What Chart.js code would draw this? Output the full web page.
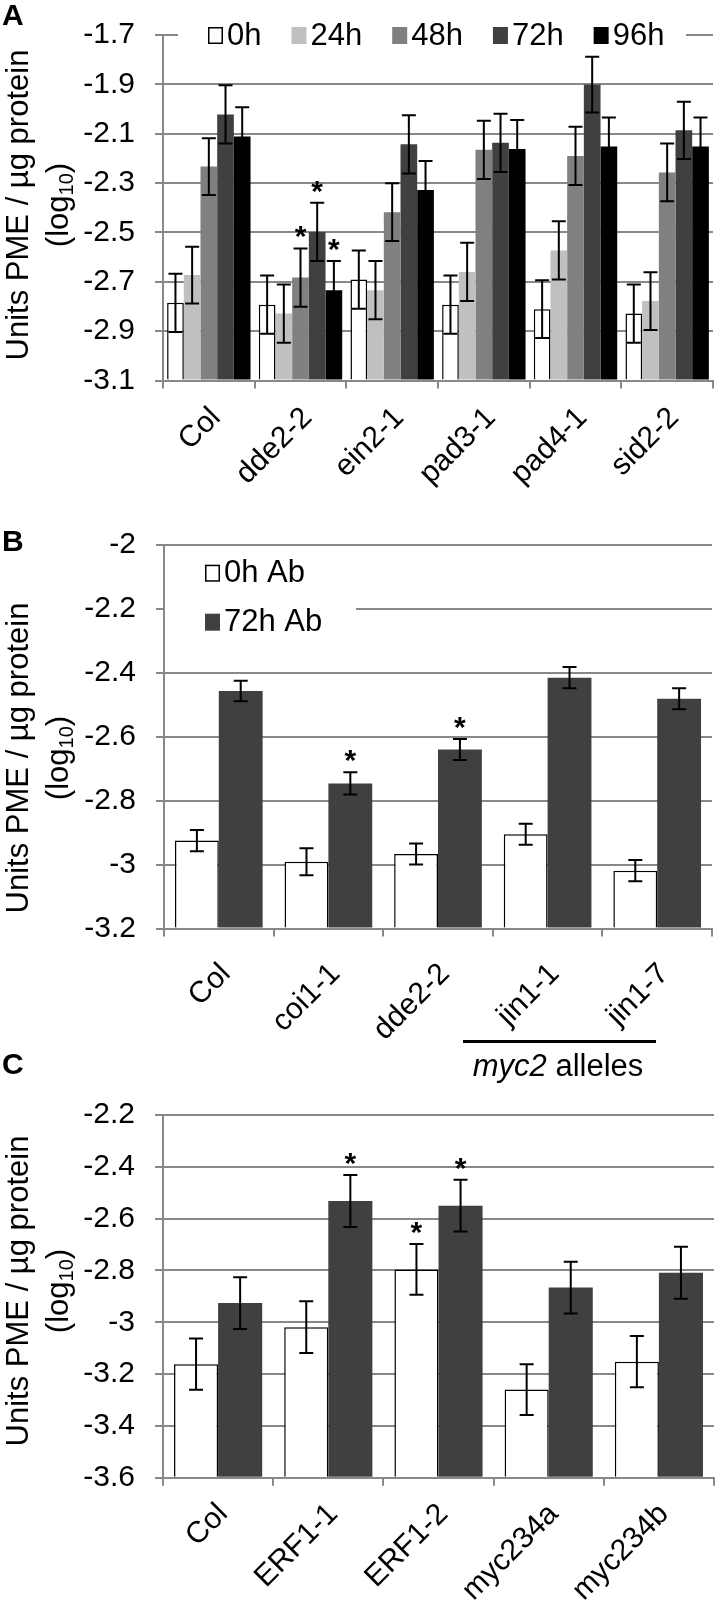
<!DOCTYPE html>
<html><head><meta charset="utf-8">
<script src="https://cdn.jsdelivr.net/npm/chart.js@4.4.0/dist/chart.umd.min.js"></script>
<style>
html,body{margin:0;padding:0;background:#fff;}
#page{position:relative;width:717px;height:1607px;overflow:hidden;font-family:"Liberation Sans",Arial,sans-serif;color:#000;}
canvas{position:absolute;left:0;}
.yt{position:absolute;width:420px;height:40px;text-align:center;font-size:31px;line-height:40px;transform:rotate(-90deg);white-space:nowrap;}
.yt sub{font-size:20px;vertical-align:-5px;line-height:0;}
.letter{position:absolute;left:2px;font-weight:bold;font-size:30px;line-height:30px;}
.note{position:absolute;font-size:31px;line-height:31px;white-space:nowrap;text-align:center;}
</style></head><body>
<div id="page">
<canvas id="cA" width="717" height="500" style="top:0"></canvas>
<canvas id="cB" width="717" height="600" style="top:480px"></canvas>
<canvas id="cC" width="717" height="527" style="top:1080px"></canvas>

<div class="letter" style="top:0px">A</div>
<div class="letter" style="top:526px">B</div>
<div class="letter" style="top:1049px">C</div>

<div class="yt" style="left:-192px;top:185px">Units PME / µg protein</div>
<div class="yt" style="left:-152px;top:185px">(log<sub>10</sub>)</div>
<div class="yt" style="left:-192px;top:738px">Units PME / µg protein</div>
<div class="yt" style="left:-152px;top:738px">(log<sub>10</sub>)</div>
<div class="yt" style="left:-192px;top:1271px">Units PME / µg protein</div>
<div class="yt" style="left:-152px;top:1271px">(log<sub>10</sub>)</div>

<div style="position:absolute;left:463px;top:1040px;width:193px;height:3px;background:#000"></div>
<div class="note" style="left:458px;top:1050px;width:200px"><i>myc2</i> alleles</div>
</div>

<script>
// ---------- DATA ----------
// Panel A
const catsA = ['Col', 'dde2-2', 'ein2-1', 'pad3-1', 'pad4-1', 'sid2-2'];
const seriesA = ['0h', '24h', '48h', '72h', '96h'];
const a0h  = [-2.785, -2.793, -2.691, -2.793, -2.811, -2.829];
const a24h = [-2.673, -2.829, -2.734, -2.660, -2.573, -2.778];
const a48h = [-2.233, -2.683, -2.418, -2.165, -2.190, -2.257];
const a72h = [-2.022, -2.498, -2.143, -2.137, -1.901, -2.086];
const a96h = [-2.111, -2.734, -2.328, -2.162, -2.152, -2.152];
const e0h  = [0.118, 0.118, 0.118, 0.118, 0.117, 0.118];
const e24h = [0.115, 0.118, 0.118, 0.118, 0.118, 0.117];
const e48h = [0.115, 0.118, 0.117, 0.118, 0.118, 0.117];
const e72h = [0.118, 0.118, 0.118, 0.118, 0.113, 0.116];
const e96h = [0.118, 0.118, 0.117, 0.118, 0.118, 0.118];
const s0h  = [0, 0, 0, 0, 0, 0];
const s24h = [0, 0, 0, 0, 0, 0];
const s48h = [0, 1, 0, 0, 0, 0];
const s72h = [0, 1, 0, 0, 0, 0];
const s96h = [0, 1, 0, 0, 0, 0];
const tickValsA = [-3.1, -2.9, -2.7, -2.5, -2.3, -2.1, -1.9, -1.7];
const tickLabsA = ['-3.1', '-2.9', '-2.7', '-2.5', '-2.3', '-2.1', '-1.9', '-1.7'];

// Panel B
const catsB = ['Col', 'coi1-1', 'dde2-2', 'jin1-1', 'jin1-7'];
const seriesB = ['0h Ab', '72h Ab'];
const b0h  = [-2.925, -2.991, -2.967, -2.905, -3.019];
const b72h = [-2.457, -2.746, -2.640, -2.415, -2.481];
const be0h  = [0.033, 0.042, 0.033, 0.033, 0.033];
const be72h = [0.032, 0.035, 0.033, 0.033, 0.033];
const bs0h  = [0, 0, 0, 0, 0];
const bs72h = [0, 1, 1, 0, 0];
const tickValsB = [-3.2, -3.0, -2.8, -2.6, -2.4, -2.2, -2.0];
const tickLabsB = ['-3.2', '-3', '-2.8', '-2.6', '-2.4', '-2.2', '-2'];

// Panel C
const catsC = ['Col', 'ERF1-1', 'ERF1-2', 'myc234a', 'myc234b'];
const seriesC = ['0h Ab', '72h Ab'];
const c0h  = [-3.162, -3.019, -2.796, -3.260, -3.152];
const c72h = [-2.926, -2.532, -2.550, -2.866, -2.809];
const ce0h  = [0.099, 0.100, 0.098, 0.098, 0.099];
const ce72h = [0.100, 0.100, 0.100, 0.100, 0.100];
const cs0h  = [0, 0, 1, 0, 0];
const cs72h = [0, 1, 1, 0, 0];
const tickValsC = [-3.6, -3.4, -3.2, -3.0, -2.8, -2.6, -2.4, -2.2];
const tickLabsC = ['-3.6', '-3.4', '-3.2', '-3', '-2.8', '-2.6', '-2.4', '-2.2'];

// ---------- STYLE ----------
const FONT = '"Liberation Sans", Arial, sans-serif';
const GRID = '#888888';
const greys5 = ['#ffffff', '#c0c0c0', '#808080', '#404040', '#000000'];
const greys2 = ['#ffffff', '#404040'];

const errPlugin = {
  id: 'errbars',
  afterDatasetsDraw(chart) {
    const ctx = chart.ctx, ys = chart.scales.y;
    chart.data.datasets.forEach((ds, i) => {
      const meta = chart.getDatasetMeta(i);
      meta.data.forEach((bar, j) => {
        const v = ds.data[j], e = ds.err[j];
        const yt = ys.getPixelForValue(v + e), yb = ys.getPixelForValue(v - e);
        ctx.save();
        ctx.strokeStyle = '#000'; ctx.lineWidth = 2;
        ctx.beginPath();
        ctx.moveTo(bar.x, yt); ctx.lineTo(bar.x, yb);
        ctx.moveTo(bar.x - 7, yt); ctx.lineTo(bar.x + 7, yt);
        ctx.moveTo(bar.x - 7, yb); ctx.lineTo(bar.x + 7, yb);
        ctx.stroke();
        if (ds.sig[j]) {
          ctx.fillStyle = '#000';
          ctx.font = 'bold 30px ' + FONT;
          ctx.textAlign = 'center'; ctx.textBaseline = 'alphabetic';
          ctx.fillText('*', bar.x, yt - 2);
        }
        ctx.restore();
      });
    });
  }
};

const legendPlugin = {
  id: 'inlegend',
  afterDraw(chart, args, opts) {
    if (!opts || !opts.show) return;
    const ctx = chart.ctx, top = chart.chartArea.top;
    ctx.save();
    ctx.fillStyle = '#fff';
    ctx.fillRect(opts.clear[0], top + opts.clear[1], opts.clear[2], opts.clear[3]);
    ctx.font = '31px ' + FONT;
    ctx.textBaseline = 'middle'; ctx.textAlign = 'left';
    let x = opts.x, y = top + opts.y;
    chart.data.datasets.forEach(ds => {
      ctx.fillStyle = ds.backgroundColor;
      ctx.fillRect(x, y - 8, 15, 17);
      if (ds.borderWidth) { ctx.strokeStyle = '#000'; ctx.lineWidth = 1.5; ctx.strokeRect(x + 0.75, y - 7.25, 13.5, 15.5); }
      ctx.fillStyle = '#000';
      ctx.fillText(ds.label, x + 19, y + 1);
      if (opts.horizontal) x += 19 + ctx.measureText(ds.label).width + 30;
      else y += opts.rowGap;
    });
    ctx.restore();
  }
};

function makeChart(id, cats, names, vals, errs, sigs, colors, tv, tl, base, catPct, layout, legend) {
  const datasets = names.map((n, k) => ({
    label: n, data: vals[k], err: errs[k], sig: sigs[k],
    backgroundColor: colors[k], borderColor: '#000', borderWidth: k === 0 ? 1.5 : 0,
    base: base, categoryPercentage: catPct, barPercentage: 1.0
  }));
  return new Chart(document.getElementById(id), {
    type: 'bar',
    data: { labels: cats, datasets },
    plugins: [errPlugin, legendPlugin],
    options: {
      responsive: false, animation: false, devicePixelRatio: 1,
      layout: { padding: { left: 0, right: layout.right, top: layout.top, bottom: 0 } },
      plugins: { legend: { display: false }, tooltip: { enabled: false }, inlegend: legend },
      scales: {
        x: {
          afterFit: s => { s.height = layout.xh; },
          grid: { display: true, drawOnChartArea: false, drawTicks: true, tickLength: 8, color: GRID, lineWidth: 2, offset: true },
          border: { color: GRID, width: 2 },
          ticks: { font: { family: FONT, size: 30, lineHeight: 1 }, color: '#000', minRotation: 45, maxRotation: 45,
            autoSkip: false, padding: layout.xpad, labelOffset: layout.xoff }
        },
        y: {
          min: tv[0], max: tv[tv.length - 1],
          afterBuildTicks: s => { s.ticks = tv.map(v => ({ value: v })); },
          afterFit: s => { s.width = layout.yw; },
          grid: { color: GRID, lineWidth: 2, tickLength: 8, drawTicks: true },
          border: { color: GRID, width: 2 },
          ticks: { font: { family: FONT, size: 30, lineHeight: 1 }, color: '#000', padding: 20,
            callback: (v) => { const i = tv.findIndex(t => Math.abs(t - v) < 1e-6); return i >= 0 ? tl[i] : ''; } }
        }
      }
    }
  });
}

makeChart('cA', catsA, seriesA, [a0h, a24h, a48h, a72h, a96h], [e0h, e24h, e48h, e72h, e96h],
  [s0h, s24h, s48h, s72h, s96h], greys5, tickValsA, tickLabsA, -3.1, 0.91,
  { right: 4, top: 15.3, xh: 119.5, yw: 163, xpad: 14, xoff: 7 },
  { show: true, horizontal: true, x: 208, y: 0, clear: [178, -4, 508, 8] });

makeChart('cB', catsB, seriesB, [b0h, b72h], [be0h, be72h], [bs0h, bs72h], greys2,
  tickValsB, tickLabsB, -3.2, 0.8,
  { right: 5, top: 65, xh: 151.5, yw: 164, xpad: 22, xoff: 7 },
  { show: true, horizontal: false, x: 205, y: 27.7, rowGap: 49, clear: [165, 8, 191, 87] });

makeChart('cC', catsC, seriesC, [c0h, c72h], [ce0h, ce72h], [cs0h, cs72h], greys2,
  tickValsC, tickLabsC, -3.6, 0.8,
  { right: 3, top: 27.3, xh: 129.3, yw: 163, xpad: 13, xoff: 5 },
  { show: false });
</script>
</body></html>
